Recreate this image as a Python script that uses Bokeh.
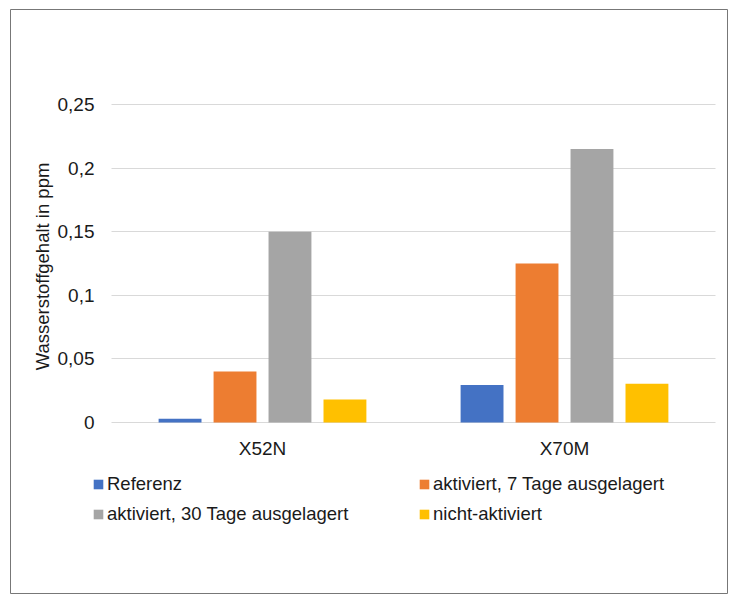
import math
from bokeh.plotting import figure
from bokeh.models import ColumnDataSource, Range1d, FixedTicker
from bokeh.transform import dodge
from bokeh.core.properties import value
from bokeh.embed import file_html
from bokeh.resources import INLINE

categories = ["X52N", "X70M"]
series_names = ["Referenz", "aktiviert, 7 Tage ausgelagert",
                "aktiviert, 30 Tage ausgelagert", "nicht-aktiviert"]
referenz = [0.003, 0.0295]
aktiviert_7 = [0.04, 0.125]
aktiviert_30 = [0.15, 0.215]
nicht_aktiviert = [0.018, 0.0305]
tick_values = [0, 0.05, 0.1, 0.15, 0.2, 0.25]
tick_labels = ["0", "0,05", "0,1", "0,15", "0,2", "0,25"]
y_title = "Wasserstoffgehalt in ppm"
colors = ["#4472C4", "#ED7D31", "#A5A5A5", "#FFC000"]

FONT = "Liberation Sans"
TEXT = "#1a1a1a"

# layout (pixels)
W, H = 728, 594
FL, FT = 10, 9                 # outer frame (border) left/top
PX_PER_CAT = 302.0             # pixels per category
CAT0_X = 262.0                 # pixel x of first category centre
Y0_PX, YTOP_PX = 422.0, 104.0  # pixel y of 0 and of 0.25
px_per_val = (Y0_PX - YTOP_PX) / tick_values[-1]

idx = list(range(len(categories)))
source = ColumnDataSource(dict(idx=idx, cat=categories, s0=referenz, s1=aktiviert_7,
                               s2=aktiviert_30, s3=nicht_aktiviert))

x_range = Range1d((FL - CAT0_X) / PX_PER_CAT, (W - CAT0_X) / PX_PER_CAT)
y_range = Range1d(-(H - Y0_PX) / px_per_val, (Y0_PX - FT) / px_per_val)

p = figure(width=W, height=H, x_range=x_range, y_range=y_range,
           output_backend="svg", toolbar_location=None,
           min_border_left=FL, min_border_top=FT, min_border_right=0, min_border_bottom=0)
p.axis.visible = False
p.outline_line_color = "#777777"
p.outline_line_width = 1
p.background_fill_color = "white"
p.border_fill_color = "white"

offsets = [-0.273, -0.091, 0.091, 0.273]
for i, (name, col) in enumerate(zip(series_names, colors)):
    p.vbar(x=dodge("idx", offsets[i]), top=f"s{i}", width=0.142, bottom=0,
           source=source, fill_color=col, line_color=None, legend_label=name)

p.xgrid.visible = False
p.ygrid.ticker = FixedTicker(ticks=tick_values)
p.ygrid.grid_line_color = "#d9d9d9"
p.ygrid.cross_bounds = (idx[0] - 0.5, idx[-1] + 0.5)

# y tick labels
tick_src = ColumnDataSource(dict(x=[idx[0] - 0.5] * len(tick_values), y=tick_values, t=tick_labels))
p.text(x="x", y="y", text="t", source=tick_src, x_offset=-17, text_align="right",
       text_baseline="middle", text_font=value(FONT), text_font_size="19px", text_color=TEXT)

# category labels
p.text(x="idx", y=0, text="cat", source=source, y_offset=26, text_align="center",
       text_baseline="middle", text_font=value(FONT), text_font_size="19px", text_color=TEXT)

# y axis title
p.text(x=[idx[0] - 0.5], y=[tick_values[-1] / 2], text=[y_title], x_offset=-69, y_offset=3,
       angle=math.pi / 2, text_align="center", text_baseline="middle",
       text_font=value(FONT), text_font_size="18.5px", text_color=TEXT)

lg = p.legend[0]
lg.orientation = "horizontal"
lg.ncols = 2
lg.location = (82, 65)
lg.border_line_color = None
lg.background_fill_alpha = 0
lg.padding = 0
lg.margin = 0
lg.spacing = 0
lg.glyph_width = 12
lg.glyph_height = 12
lg.label_standoff = 3
lg.label_width = 311
lg.label_height = 30
lg.label_text_font = FONT
lg.label_text_font_size = "18.5px"
lg.label_text_color = TEXT

open("out.html", "w").write(file_html(p, INLINE))
